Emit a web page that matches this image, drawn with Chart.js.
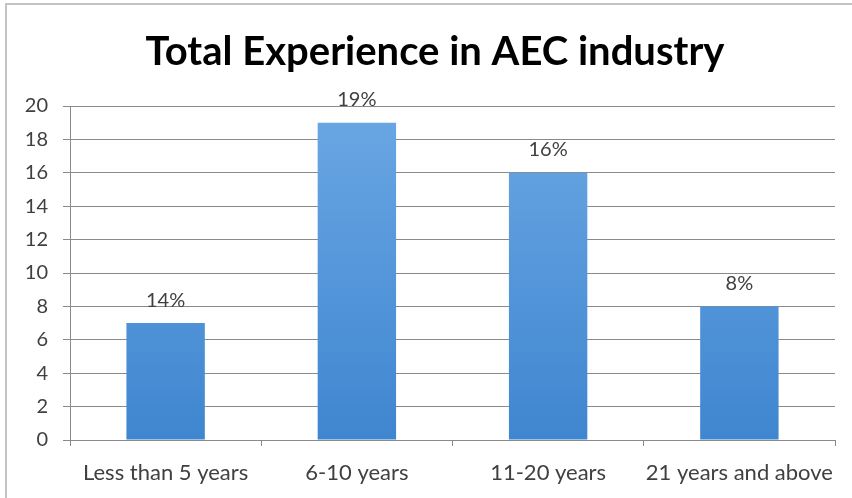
<!DOCTYPE html>
<html>
<head>
<meta charset="utf-8">
<script src="https://cdn.jsdelivr.net/npm/chart.js@4.4.1/dist/chart.umd.min.js"></script>
<style>
  html, body { margin: 0; padding: 0; background: #fff; }
  #wrap { width: 852px; height: 498px; }
</style>
</head>
<body>
<div id="wrap"><canvas id="expChart"></canvas></div>
<script>
  // ---------- Data ----------
  const categories = ['Less than 5 years', '6-10 years', '11-20 years', '21 years and above'];
  const counts = [7, 19, 16, 8];
  const pctLabels = ['14%', '19%', '16%', '8%'];
  const yTicks = [0, 2, 4, 6, 8, 10, 12, 14, 16, 18, 20];
  const titleText = 'Total Experience in AEC industry';

  const FONT = 'Lato, "Liberation Sans", sans-serif';
  const TEXT = '#404040';
  const GRID = '#8a8a8a';

  // gradient bar fill, lighter on top
  function barFill(ctx) {
    const area = ctx.chart.chartArea;
    if (!area) return '#5b9bd5';
    const g = ctx.chart.ctx.createLinearGradient(0, area.top, 0, area.bottom);
    g.addColorStop(0, '#6ba7e4');
    g.addColorStop(1, '#3f86d0');
    return g;
  }

  // outer frame + title (title sits off-centre like the original box)
  const frame = {
    id: 'frame',
    beforeDraw(chart) {
      const c = chart.ctx;
      c.save();
      c.strokeStyle = '#c4c4c4';
      c.lineWidth = 2;
      c.strokeRect(6, 4, 860, 510);
      c.font = 'bold 40px ' + FONT;
      c.fillStyle = '#000';
      c.textAlign = 'center';
      c.textBaseline = 'middle';
      c.fillText(titleText, 435, 52);
      c.restore();
    }
  };

  // percentage labels above each bar
  const pctPlugin = {
    id: 'pct',
    afterDatasetsDraw(chart) {
      const c = chart.ctx;
      const meta = chart.getDatasetMeta(0);
      c.save();
      c.font = '20px ' + FONT;
      c.fillStyle = TEXT;
      c.textAlign = 'center';
      c.textBaseline = 'middle';
      meta.data.forEach((bar, i) => {
        c.fillText(pctLabels[i], bar.x, bar.y - 23);
      });
      c.restore();
    }
  };

  new Chart(document.getElementById('expChart'), {
    type: 'bar',
    data: {
      labels: categories,
      datasets: [{
        data: counts,
        backgroundColor: barFill,
        borderWidth: 0,
        barPercentage: 0.41,
        categoryPercentage: 1
      }]
    },
    options: {
      responsive: true,
      maintainAspectRatio: false,
      animation: false,
      layout: { padding: { left: 0, right: 17, top: 106, bottom: 0 } },
      plugins: {
        legend: { display: false },
        tooltip: { enabled: false },
        title: { display: false }
      },
      scales: {
        x: {
          grid: { drawOnChartArea: false, drawTicks: true, tickLength: 6, color: GRID, offset: true },
          border: { color: GRID },
          ticks: { color: TEXT, font: { family: FONT, size: 22 }, padding: 14, maxRotation: 0, autoSkip: false },
          afterFit(axis) { axis.height = 58; }
        },
        y: {
          min: 0,
          max: 20,
          afterBuildTicks(axis) { axis.ticks = yTicks.map(v => ({ value: v })); },
          grid: { color: GRID, tickLength: 7 },
          border: { color: GRID },
          ticks: { color: TEXT, font: { family: FONT, size: 20 }, padding: 15 },
          afterFit(axis) { axis.width = 70; }
        }
      }
    },
    plugins: [frame, pctPlugin]
  });
</script>
</body>
</html>
